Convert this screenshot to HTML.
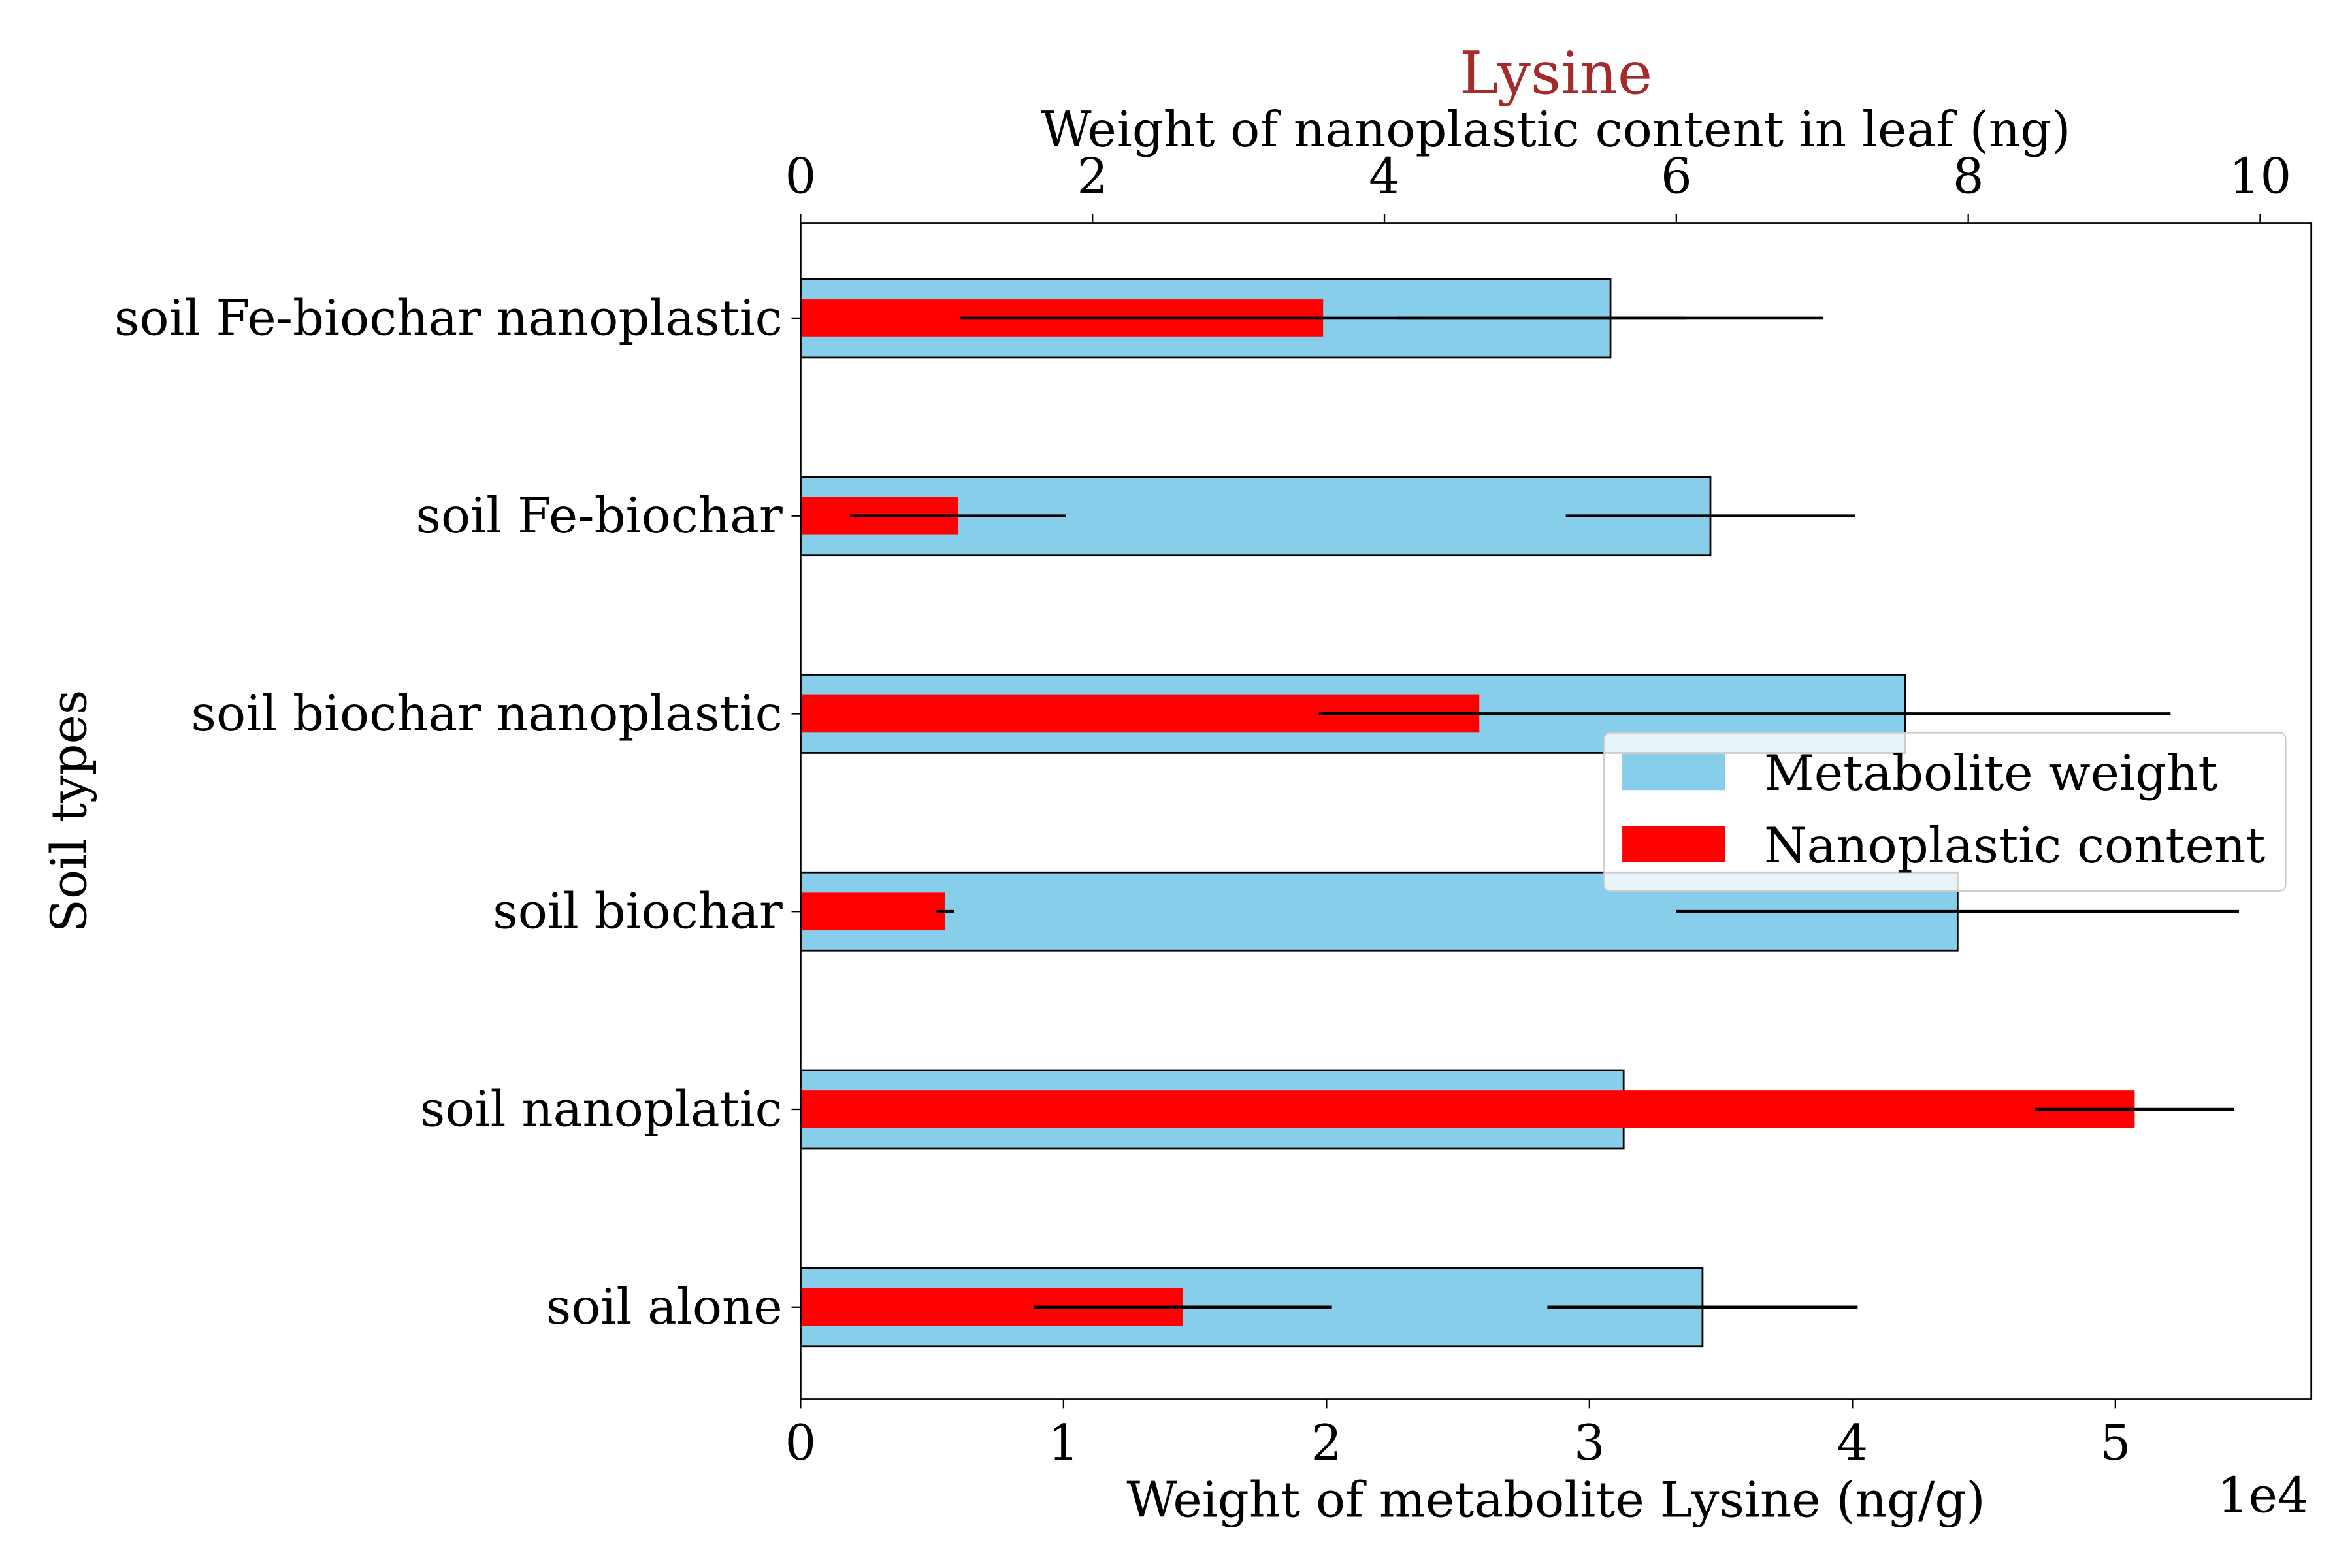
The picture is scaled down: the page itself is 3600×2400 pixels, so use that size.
<!DOCTYPE html>
<html><head><meta charset="utf-8"><style>html,body{margin:0;padding:0;background:#fff}svg{display:block}text{font-family:"DejaVu Serif","Liberation Serif",serif;fill:#000}</style></head>
<body>
<svg id="chart" width="3600" height="2400" viewBox="0 0 1560 1040" xmlns="http://www.w3.org/2000/svg"></svg>
<script>
const categories = ["soil Fe-biochar nanoplastic","soil Fe-biochar","soil biochar nanoplastic","soil biochar","soil nanoplatic","soil alone"];
const metaboliteValues = [3.08e4, 3.46e4, 4.20e4, 4.40e4, 3.13e4, 3.43e4];
const metaboliteErrors = [0.81e4, 0.55e4, 1.01e4, 1.07e4, 0, 0.59e4];
const nanoValues = [3.58, 1.08, 4.65, 0.99, 9.14, 2.62];
const nanoErrors = [2.49, 0.74, 1.10, 0.06, 0.68, 1.02];
const bottomTicks = [0,1,2,3,4,5];
const topTicks = [0,2,4,6,8,10];

const L=531,R=1533,T=148,B=928;
const bottomMax=5.745e4, topMax=10.35;
const FS=32.5;
const xb=v=>L+v/bottomMax*(R-L);
const xt=v=>L+v/topMax*(R-L);
const yc=i=>211+i*131.2;
const svg=document.getElementById('chart');
const NS="http://www.w3.org/2000/svg";
function mk(tag,attrs,text){const e=document.createElementNS(NS,tag);for(const k in attrs)e.setAttribute(k,attrs[k]);if(text!==undefined)e.textContent=text;svg.appendChild(e);return e;}

categories.forEach((c,i)=>{
  const b=mk('rect',{x:L,y:yc(i)-26,width:xb(metaboliteValues[i])-L,height:52,fill:'#87ceeb',stroke:'#000','stroke-width':1.2});
  
  
  const r=mk('rect',{x:L,y:yc(i)-12.5,width:xt(nanoValues[i])-L,height:25,fill:'#ff0000'});
  
  
});
categories.forEach((c,i)=>{
  if(metaboliteErrors[i]>0){
    const e=mk('line',{x1:xb(metaboliteValues[i]-metaboliteErrors[i]),x2:xb(metaboliteValues[i]+metaboliteErrors[i]),y1:yc(i),y2:yc(i),stroke:'#000','stroke-width':2});
    
    
  }
  const e2=mk('line',{x1:xt(nanoValues[i]-nanoErrors[i]),x2:xt(nanoValues[i]+nanoErrors[i]),y1:yc(i),y2:yc(i),stroke:'#000','stroke-width':2});
  
  
  const t=mk('line',{x1:L-6,x2:L,y1:yc(i),y2:yc(i),stroke:'#000','stroke-width':1});
  
  
  const lb=mk('text',{x:L-12,y:yc(i)+11,'font-size':FS,'text-anchor':'end'},c);
  
  
});
const frame=mk('rect',{x:L,y:T,width:R-L,height:B-T,fill:'none',stroke:'#000','stroke-width':1.2});


bottomTicks.forEach(v=>{
  const t=mk('line',{x1:xb(v*1e4),x2:xb(v*1e4),y1:B,y2:B+6,stroke:'#000','stroke-width':1});
  
  
  const l=mk('text',{x:xb(v*1e4),y:B+40,'font-size':FS,'text-anchor':'middle'},String(v));
  
  
});
topTicks.forEach(v=>{
  const t=mk('line',{x1:xt(v),x2:xt(v),y1:T-6,y2:T,stroke:'#000','stroke-width':1});
  
  
  const l=mk('text',{x:xt(v),y:T-20,'font-size':FS,'text-anchor':'middle'},String(v));
  
  
});
</script>
<script>
(function(){
const FS=32.5;
const svg=document.getElementById('chart');const NS="http://www.w3.org/2000/svg";
function mk(tag,attrs,text){const e=document.createElementNS(NS,tag);for(const k in attrs)e.setAttribute(k,attrs[k]);if(text!==undefined)e.textContent=text;svg.appendChild(e);return e;}
let e;
e=mk('text',{x:1501,y:1003,'font-size':FS,'text-anchor':'middle'},'1e4');


e=mk('text',{x:1032,y:1006,'font-size':FS,'text-anchor':'middle'},'Weight of metabolite Lysine (ng/g)');


e=mk('text',{x:1032,y:97,'font-size':FS,'text-anchor':'middle'},'Weight of nanoplastic content in leaf (ng)');


e=mk('text',{x:1032,y:62,'font-size':39,'text-anchor':'middle',style:'fill:#a52a2a'},'Lysine');


e=mk('text',{x:57,y:538,'font-size':FS,'text-anchor':'middle',transform:'rotate(-90 57 538)'},'Soil types');


e=mk('rect',{x:1064,y:486,width:452,height:105,rx:4,fill:'#fff','fill-opacity':0.8,stroke:'#ccc','stroke-width':1});


e=mk('rect',{x:1076,y:500,width:68,height:24,fill:'#87ceeb'});


e=mk('text',{x:1170,y:524,'font-size':FS},'Metabolite weight');


e=mk('rect',{x:1076,y:548,width:68,height:24,fill:'#ff0000'});


e=mk('text',{x:1170,y:572,'font-size':FS},'Nanoplastic content');


})();
</script>
</body></html>
